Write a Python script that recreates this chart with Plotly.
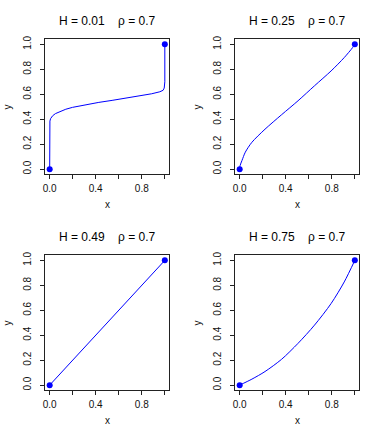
import plotly.graph_objects as go

W, H = 382, 436

# ---------------- data ----------------
titles = ["H = 0.01", "H = 0.25", "H = 0.49", "H = 0.75"]
rho_label = "ρ = 0.7"

x_h001 = [0, 0, 0.002, 0.008, 0.026, 0.05, 0.083, 0.14, 0.198, 0.312, 0.427,
          0.542, 0.656, 0.771, 0.886, 0.957, 0.985, 0.995, 1, 1]
y_h001 = [0, 0.355, 0.385, 0.405, 0.428, 0.445, 0.46, 0.48, 0.495, 0.516, 0.535,
          0.551, 0.567, 0.583, 0.604, 0.62, 0.632, 0.65, 0.7, 1]

x_h025 = [0, 0.004, 0.02, 0.049, 0.106, 0.22, 0.364, 0.507, 0.65, 0.794, 0.908, 0.98, 1]
y_h025 = [0, 0.03, 0.069, 0.136, 0.215, 0.32, 0.436, 0.548, 0.668, 0.787, 0.894, 0.973, 1]

x_h049 = [0, 1]
y_h049 = [0, 1]

x_h075 = [0, 0.106, 0.22, 0.364, 0.507, 0.65, 0.794, 0.908, 1]
y_h075 = [0, 0.048, 0.109, 0.207, 0.335, 0.481, 0.654, 0.827, 1]

end_x = [0, 1]
end_y = [0, 1]

x_ticks = [0, 0.2, 0.4, 0.6, 0.8, 1.0]
x_ticktext = ["0.0", "", "0.4", "", "0.8", ""]
y_ticks = [0, 0.2, 0.4, 0.6, 0.8, 1.0]
y_ticktext = ["0.0", "0.2", "0.4", "0.6", "0.8", "1.0"]

curves = [(x_h001, y_h001), (x_h025, y_h025), (x_h049, y_h049), (x_h075, y_h075)]
shapes_ = ["linear", "spline", "linear", "spline"]

# ---------------- layout geometry (pixels) ----------------
col_left = [43.3, 234.3]
col_right = [168.3, 359.3]
row_top = [35.7, 253.7]
row_bottom = [171.7, 389.7]

FONT = "Liberation Sans, Arial, Helvetica, sans-serif"
BLUE = "#0000FF"

fig = go.Figure()
layout = dict(
    width=W, height=H, autosize=False,
    margin=dict(l=0, r=0, t=0, b=0),
    paper_bgcolor="white", plot_bgcolor="white",
    showlegend=False,
    font=dict(family=FONT, color="black"),
)
annotations = []

for i, (cx, cy) in enumerate(curves):
    r, c = divmod(i, 2)
    n = i + 1
    xa = "x" if n == 1 else f"x{n}"
    ya = "y" if n == 1 else f"y{n}"
    xd = [col_left[c] / W, col_right[c] / W]
    yd = [1 - row_bottom[r] / H, 1 - row_top[r] / H]

    fig.add_trace(go.Scatter(x=cx, y=cy, mode="lines",
                             line=dict(color=BLUE, width=1, shape=shapes_[i], smoothing=0.8),
                             xaxis=xa, yaxis=ya, hoverinfo="skip"))
    fig.add_trace(go.Scatter(x=end_x, y=end_y, mode="markers",
                             marker=dict(color=BLUE, size=6),
                             xaxis=xa, yaxis=ya, hoverinfo="skip"))

    common = dict(showgrid=False, zeroline=False, showline=True, mirror=True,
                  linecolor="#222222", linewidth=1, ticks="outside", ticklen=4,
                  tickwidth=1, tickcolor="#222222", range=[-0.04, 1.04],
                  tickfont=dict(family=FONT, size=10, color="#111111"))
    layout["xaxis" if n == 1 else f"xaxis{n}"] = dict(
        domain=xd, anchor=ya, tickvals=x_ticks, ticktext=x_ticktext, tickangle=0,
        ticklabelstandoff=1, **common)
    layout["yaxis" if n == 1 else f"yaxis{n}"] = dict(
        domain=yd, anchor=xa, tickvals=y_ticks, ticktext=y_ticktext, tickangle=-90,
        ticklabelstandoff=5, **common)

    xc = (col_left[c] + col_right[c]) / 2 / W
    annotations.append(dict(
        text=titles[i] + "\u00a0\u00a0\u00a0\u00a0" + rho_label,
        x=xc, y=1 - (17 + 218 * r) / H, xref="paper", yref="paper",
        showarrow=False, xanchor="center", yanchor="middle",
        font=dict(family=FONT, size=12, color="black")))
    annotations.append(dict(
        text="x", x=xc, y=1 - (202 + 218 * r) / H, xref="paper", yref="paper",
        showarrow=False, xanchor="center", yanchor="middle",
        font=dict(family=FONT, size=10, color="#111111")))
    yc = 1 - (row_top[r] + row_bottom[r]) / 2 / H
    annotations.append(dict(
        text="y", x=(5.7 + 191 * c) / W, y=yc, xref="paper", yref="paper",
        showarrow=False, xanchor="center", yanchor="middle", textangle=-90,
        font=dict(family=FONT, size=10, color="#111111")))

layout["annotations"] = annotations
fig.update_layout(**layout)
fig.write_html("out.html", config={"displayModeBar": False},
               post_script="document.body.style.margin='0';")
